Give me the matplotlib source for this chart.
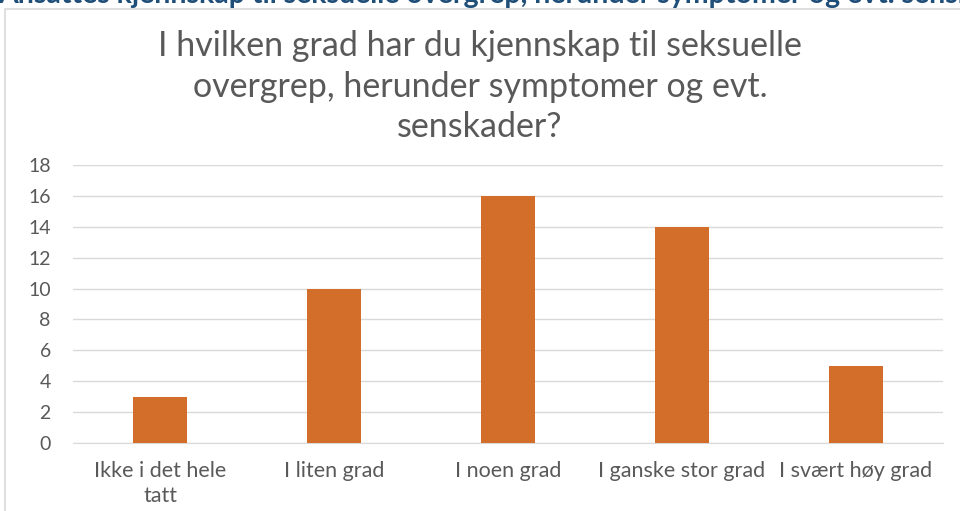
import matplotlib
matplotlib.use("Agg")
import matplotlib.pyplot as plt
from matplotlib.patches import Rectangle

categories = ["Ikke i det hele\ntatt", "I liten grad", "I noen grad", "I ganske stor grad", "I svært høy grad"]
values = [3, 10, 16, 14, 5]
yticks = [0, 2, 4, 6, 8, 10, 12, 14, 16, 18]

title = "I hvilken grad har du kjennskap til seksuelle\novergrep, herunder symptomer og evt.\nsenskader?"
header = "Ansattes kjennskap til seksuelle overgrep, herunder symptomer og evt. senskader"

plt.rcParams['font.family'] = ['Lato', 'DejaVu Sans']

W, H = 960, 511
fig = plt.figure(figsize=(W / 100, H / 100), dpi=100)
fig.patch.set_facecolor('white')

# chart frame
frame = Rectangle((5 / W, -0.01), 1.0, (H - 9) / H + 0.01, transform=fig.transFigure,
                  facecolor='white', edgecolor='#d9d9d9', linewidth=1.2, zorder=-5)
fig.add_artist(frame)

# clipped header text at the top
fig.text(-0.002, 1 - 3 / H, header, ha='left', va='baseline', fontsize=20.5, fontweight='bold',
         color='#1f4e79', zorder=-10)

ax = fig.add_axes([73 / W, 1 - 443 / H, 870 / W, (443 - 165) / H])
ax.set_zorder(2)
x = list(range(len(categories)))
ax.bar(x, values, width=0.31, color='#d26e2a', zorder=3)
ax.set_xlim(-0.5, len(categories) - 0.5)
ax.set_ylim(0, 18)
ax.set_yticks(yticks)
ax.set_xticks(x)
ax.set_xticklabels(categories, fontsize=15.5, color='#595959', linespacing=1.3)
ax.tick_params(axis='y', labelsize=14, labelcolor='#595959', length=0, pad=16)
ax.tick_params(axis='x', length=0, pad=13)
ax.grid(axis='y', color='#d9d9d9', linewidth=1, zorder=0)
for s in ['top', 'right', 'left']:
    ax.spines[s].set_visible(False)
ax.spines['bottom'].set_color('#d9d9d9')
ax.set_facecolor('none')

t = fig.text(0.5, 1 - 30 / H, title, ha='center', va='top', fontsize=24.5, color='#595959',
             linespacing=1.33)
t.set_zorder(3)

fig.savefig("out.png", dpi=100)
